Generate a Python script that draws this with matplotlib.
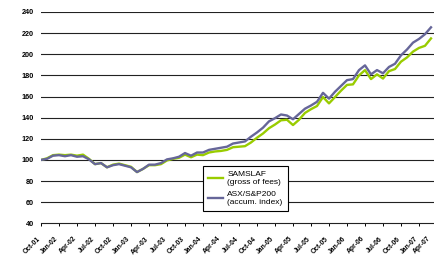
import matplotlib
matplotlib.use("Agg")
import matplotlib.pyplot as plt

plt.rcParams['font.family'] = ['Liberation Sans', 'DejaVu Sans']

# monthly index values, Oct-01 .. Mar-07
samslaf = [100, 101.5, 104.5, 105, 104.5, 105, 104, 105, 101, 96,
           97, 93, 95.5, 96.5, 95, 93.5, 88.5, 91.5, 95, 95,
           96, 99.5, 101, 102, 105, 102.5, 105, 104.5, 107, 108,
           108.5, 109.5, 112, 112.5, 113, 116.5, 121, 125, 130, 133.5,
           137.5, 138, 133, 138, 144.5, 148, 151, 159.5, 153.5, 159.5,
           165.5, 171, 171.5, 180, 185, 176.5, 181, 177, 184, 186,
           193, 197, 202.5, 206, 208, 215]
asx200 = [100, 101, 104, 104.5, 103.5, 104.5, 103, 103.5, 100.5, 96,
          97, 93, 95, 96, 94.5, 93, 88.5, 91.5, 95.5, 95.5,
          97, 100.5, 101.5, 103, 106.5, 104, 107, 107, 109.5, 110.5,
          111.5, 112.5, 115.5, 116.5, 117.5, 122, 126, 130.5, 136.5, 139.5,
          143, 142, 138.5, 143.5, 148.5, 151.5, 155, 163.5, 158, 164.5,
          170, 175.5, 176.5, 185, 189.5, 181, 185, 182, 188, 191,
          199, 204.5, 211, 214.5, 219, 225.5]
quarter_labels = ['Oct-01', 'Jan-02', 'Apr-02', 'Jul-02', 'Oct-02', 'Jan-03',
                  'Apr-03', 'Jul-03', 'Oct-03', 'Jan-04', 'Apr-04', 'Jul-04',
                  'Oct-04', 'Jan-05', 'Apr-05', 'Jul-05', 'Oct-05', 'Jan-06',
                  'Apr-06', 'Jul-06', 'Oct-06', 'Jan-07', 'Apr-07']

months = list(range(len(asx200)))
tick_pos = [3 * i for i in range(len(quarter_labels))]

fig = plt.figure(figsize=(4.35, 2.58), dpi=100)
ax = fig.add_axes([41 / 435, 1 - 223.3 / 258, 396 / 435, 211.3 / 258])

for yv in range(60, 241, 20):
    ax.axhline(yv, color='#222222', lw=0.8, zorder=1)

l1, = ax.plot(months, samslaf, color='#99CC00', lw=1.7, zorder=3)
l2, = ax.plot(months, asx200, color='#666699', lw=1.7, zorder=4)

ax.set_xlim(0, 66)
ax.set_ylim(40, 240)
ax.set_yticks(range(40, 241, 20))
ax.set_xticks(tick_pos)
ax.set_xticklabels([])
for lab in ax.get_yticklabels():
    lab.set_fontsize(5.2)
    lab.set_fontweight('bold')

# rotated category labels, the last one pulled in so it stays in the picture
for i, (pos, txt) in enumerate(zip(tick_pos, quarter_labels)):
    dx = -10 if i == len(quarter_labels) - 1 else -4
    ax.annotate(txt, xy=(pos, 0), xycoords=ax.get_xaxis_transform(),
                xytext=(dx, -12), textcoords='offset pixels',
                rotation=45, ha='right', va='top', rotation_mode='anchor',
                fontsize=4.9, fontweight='bold', annotation_clip=False)

for side in ['left', 'right', 'top']:
    ax.spines[side].set_visible(False)
ax.spines['bottom'].set_color('#222222')
ax.spines['bottom'].set_linewidth(0.8)
ax.tick_params(axis='y', length=0, pad=5)
ax.tick_params(axis='x', direction='out', length=2.5, width=0.7)

leg = ax.legend([l1, l2], ['SAMSLAF\n(gross of fees)', 'ASX/S&P200\n(accum. index)'],
                loc='upper left', bbox_to_anchor=(0.399, 0.289), fontsize=6.0,
                frameon=True, fancybox=False, framealpha=1, edgecolor='black',
                handlelength=1.8, borderpad=0.6, labelspacing=0.6, handletextpad=0.5)
leg.get_frame().set_linewidth(0.8)

fig.savefig('out.png', dpi=100)
